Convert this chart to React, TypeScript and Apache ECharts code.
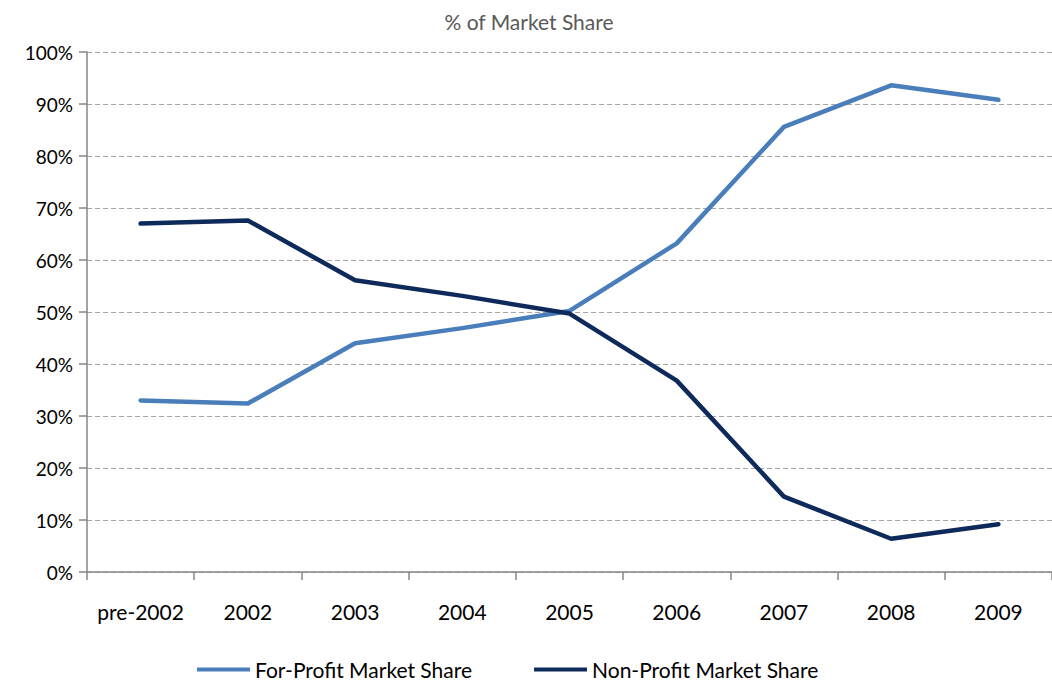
import React, { useEffect, useRef } from "react";
import * as echarts from "echarts";

const categories = ["pre-2002", "2002", "2003", "2004", "2005", "2006", "2007", "2008", "2009"];
const forProfit = [33.0, 32.4, 44.0, 46.9, 50.2, 63.2, 85.6, 93.6, 90.8];
const nonProfit = [67.0, 67.6, 56.1, 53.1, 49.7, 36.8, 14.5, 6.4, 9.2];
const yTicks = [0, 10, 20, 30, 40, 50, 60, 70, 80, 90, 100];

const FONT = "Lato, 'Open Sans', sans-serif";

export default function App() {
  const ref = useRef<HTMLDivElement>(null);
  useEffect(() => {
    if (!ref.current) return;
    const chart = echarts.init(ref.current, null, { renderer: "svg" });
    chart.setOption({
      animation: false,
      backgroundColor: "#ffffff",
      title: {
        text: "% of Market Share",
        left: 524,
        top: 6,
        textAlign: "center",
        textStyle: { color: "#595959", fontSize: 21, fontWeight: "normal", fontFamily: FONT },
      },
      grid: { left: 87, right: -7, top: 52, bottom: 109, containLabel: false },
      legend: {
        top: 654,
        left: 192,
        itemWidth: 53,
        itemHeight: 4,
        itemGap: 62,
        icon: "rect",
        textStyle: { color: "#000", fontSize: 21, fontFamily: FONT, padding: [0, 0, 0, 0] },
        data: ["For-Profit Market Share", "Non-Profit Market Share"],
      },
      xAxis: {
        type: "category",
        data: categories,
        boundaryGap: true,
        axisLine: { lineStyle: { color: "#868686", width: 1.5 } },
        axisTick: { show: true, length: 8, interval: 0, lineStyle: { color: "#868686", width: 1.5 } },
        axisLabel: { color: "#000", fontSize: 21, fontFamily: FONT, margin: 29, interval: 0 },
      },
      yAxis: {
        type: "value",
        min: 0,
        max: 100,
        interval: 10,
        axisLine: { show: true, lineStyle: { color: "#868686", width: 1.5 } },
        axisTick: { show: true, inside: false, length: 8, lineStyle: { color: "#868686", width: 1.5 } },
        axisLabel: {
          color: "#000",
          fontSize: 19,
          fontFamily: FONT,
          margin: 14,
          formatter: (v: number) => (yTicks.includes(v) ? v + "%" : ""),
        },
        splitLine: { show: true, lineStyle: { color: "#A6A6A6", type: [5, 3], width: 1.2 } },
      },
      series: [
        {
          name: "For-Profit Market Share",
          type: "line",
          data: forProfit,
          symbol: "none",
          lineStyle: { color: "#4A7EBB", width: 4.5, cap: "round", join: "round" },
          itemStyle: { color: "#4A7EBB" },
        },
        {
          name: "Non-Profit Market Share",
          type: "line",
          data: nonProfit,
          symbol: "none",
          lineStyle: { color: "#0E2A5A", width: 4.5, cap: "round", join: "round" },
          itemStyle: { color: "#0E2A5A" },
        },
      ],
    });
    return () => chart.dispose();
  }, []);
  return <div ref={ref} style={{ width: 1052, height: 681, position: "absolute", left: 0, top: 0 }} />;
}
